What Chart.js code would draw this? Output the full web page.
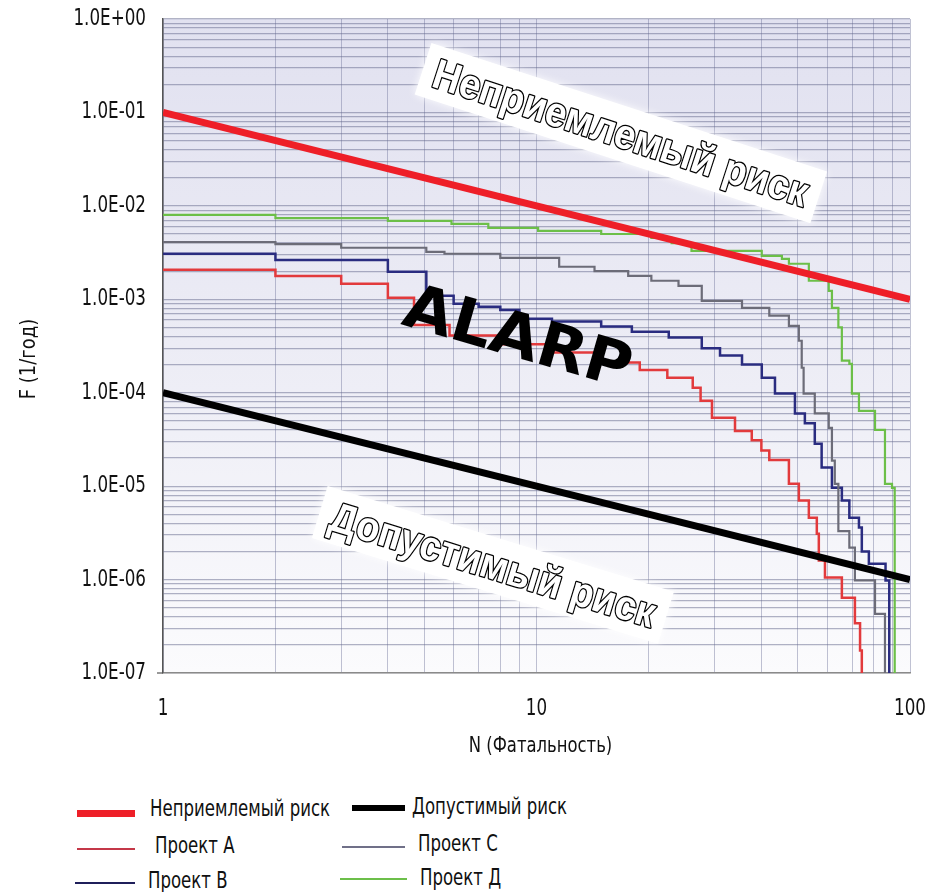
<!DOCTYPE html>
<html>
<head>
<meta charset="utf-8">
<script src="https://cdn.jsdelivr.net/npm/chart.js@4.4.1/dist/chart.umd.min.js"></script>
<style>
body { margin: 0; background: #fff; }
#wrap { position: relative; width: 928px; height: 892px; }
#chart { position: absolute; left: 0; top: 0; }
.leg-line { position: absolute; }
.leg-text { position: absolute; font: 23px "Liberation Sans Narrow", "DejaVu Sans Condensed", sans-serif; color: #111; white-space: nowrap; line-height: 1; transform-origin: 0 50%; transform: translateY(-50%) scaleX(0.8); }
</style>
</head>
<body>
<div id="wrap">
  <canvas id="chart" width="928" height="770"></canvas>
  <div id="legend"></div>
</div>
<script>
// Границы риска (F-N)
const riskN = [1, 100];
const unacceptableF = [1e-1, 1e-3];
const tolerableF = [1e-4, 1e-6];

// Проект A
const nA = [1, 2, 3, 4, 4.7, 5.85, 8, 10.9, 14.8, 18.9, 22.4, 26.2, 27.5, 29.5, 34, 37.7, 40, 42, 47.4, 50.4, 53.6, 56.3, 57, 59.2, 65.7, 71.2, 73.5, 74.3];
const fA = [2.07e-3, 1.78e-3, 1.47e-3, 1.04e-3, 5.3e-4, 4.1e-4, 3.3e-4, 2.7e-4, 2.1e-4, 1.75e-4, 1.45e-4, 1.13e-4, 8.2e-5, 5.4e-5, 3.9e-5, 3.1e-5, 2.4e-5, 1.9e-5, 1.06e-5, 7.0e-6, 4.6e-6, 3.1e-6, 1.6e-6, 1.05e-6, 6.4e-7, 3.4e-7, 1.74e-7, 1.0e-7];

// Проект B
const nB = [1, 2, 4, 5.07, 6, 7, 8, 9, 11, 14.9, 18, 22.6, 27.7, 31, 35.5, 40.1, 43.5, 49.2, 52.3, 55.6, 58, 61.8, 65.7, 68.8, 73, 74.3, 77.6, 86, 88, 88];
const fB = [3.07e-3, 2.64e-3, 1.97e-3, 1.09e-3, 8.95e-4, 8.3e-4, 7.7e-4, 6.2e-4, 5.8e-4, 5.1e-4, 4.5e-4, 3.9e-4, 3.0e-4, 2.5e-4, 2.0e-4, 1.45e-4, 9.8e-5, 6.0e-5, 4.7e-5, 2.85e-5, 1.58e-5, 9.6e-6, 7.0e-6, 4.6e-6, 3.6e-6, 2.0e-6, 1.48e-6, 9.8e-7, 7.6e-7, 1.0e-7];

// Проект C
const nC = [1, 2, 3, 5.07, 5.67, 8, 11.5, 14.3, 17.6, 20.3, 24, 27.7, 35.5, 42, 47.4, 50.4, 51.3, 51.9, 55.6, 60.6, 61.8, 62.9, 64.3, 68.8, 71.2, 80.6, 85.7];
const fC = [4.1e-3, 3.9e-3, 3.56e-3, 3.22e-3, 3.07e-3, 2.78e-3, 2.23e-3, 2.0e-3, 1.78e-3, 1.58e-3, 1.39e-3, 9.6e-4, 8.1e-4, 6.7e-4, 5.2e-4, 3.6e-4, 1.85e-4, 9.8e-5, 6.0e-5, 4.2e-5, 1.88e-5, 1.06e-5, 3.3e-6, 2.2e-6, 9.8e-7, 4.3e-7, 1.0e-7];

// Проект Д
const nD = [1, 2, 4, 5.92, 7.43, 10.1, 14.9, 20.3, 23, 26, 40.1, 45.4, 47.4, 53.6, 60.6, 61.8, 64.3, 65.7, 68.8, 69.9, 73, 80.6, 85.7, 89.5, 91];
const fD = [8.0e-3, 7.4e-3, 6.9e-3, 6.4e-3, 5.8e-3, 5.4e-3, 5.0e-3, 4.55e-3, 4.0e-3, 3.3e-3, 2.92e-3, 2.71e-3, 2.4e-3, 1.58e-3, 1.23e-3, 8.1e-4, 5.0e-4, 2.2e-4, 2.04e-4, 9.8e-5, 6.4e-5, 4.0e-5, 1.06e-5, 9.6e-6, 1.0e-7];

// Подписи осей
const xGridValues = [1, 2, 3, 4, 5, 6, 7, 8, 9, 10, 20, 30, 40, 50, 60, 70, 80, 90, 100];
const xLabelValues = [1, 10, 100];
const xTickLabels = ['1', '10', '100'];
const yLabelValues = [1, 1e-1, 1e-2, 1e-3, 1e-4, 1e-5, 1e-6, 1e-7];
const yTickLabels = ['1.0E+00', '1.0E-01', '1.0E-02', '1.0E-03', '1.0E-04', '1.0E-05', '1.0E-06', '1.0E-07'];
const xTitle = 'N (Фатальность)';
const yTitle = 'F (1/год)';

// Надписи на поле графика
const annotTexts = ['Неприемлемый риск', 'ALARP', 'Допустимый риск'];
const annotN = [5.19, 4.31, 2.75];
const annotF = [0.192, 5.44e-4, 3.48e-6];

const FONT = '"Liberation Sans Narrow", "DejaVu Sans Condensed", sans-serif';
Chart.defaults.font.family = FONT;
Chart.defaults.color = '#111';

function pts(xs, ys) {
    return xs.map((v, i) => ({ x: v, y: ys[i] }));
}

const yGridValues = [];
for (let e = -7; e <= 0; e++) {
    for (let s = 1; s <= 9; s++) {
        if (e === 0 && s > 1) break;
        yGridValues.push(s * Math.pow(10, e));
    }
}

const datasets = [
    { label: 'Неприемлемый риск', data: pts(riskN, unacceptableF), borderColor: '#ee1f28', borderWidth: 7, legendH: 7 },
    { label: 'Допустимый риск', data: pts(riskN, tolerableF), borderColor: '#000000', borderWidth: 7, legendH: 6 },
    { label: 'Проект A', data: pts(nA, fA), borderColor: '#e23a3c', borderWidth: 2.5, stepped: true, legendColor: '#c43848' },
    { label: 'Проект C', data: pts(nC, fC), borderColor: '#6c6c78', borderWidth: 2.2, stepped: true, legendColor: '#707088' },
    { label: 'Проект B', data: pts(nB, fB), borderColor: '#2a2c80', borderWidth: 2.5, stepped: true, legendColor: '#1f1f5a' },
    { label: 'Проект Д', data: pts(nD, fD), borderColor: '#6cbf48', borderWidth: 2.2, stepped: true, legendColor: '#6cbf4a' }
];
datasets.forEach(d => { d.pointRadius = 0; d.fill = false; d.tension = 0; });

// узкий текст (шрифт сжат по горизонтали)
function narrowText(ctx, txt, x, y, align, size, sx, rot) {
    ctx.save();
    ctx.translate(x, y);
    if (rot) ctx.rotate(rot);
    ctx.scale(sx, 1);
    ctx.font = size + 'px ' + FONT;
    ctx.fillStyle = '#111';
    ctx.textAlign = align;
    ctx.textBaseline = 'middle';
    ctx.fillText(txt, 0, 0);
    ctx.restore();
}

// фон, подписи осей и надписи
const riskPlugin = {
    id: 'riskPlugin',
    beforeDraw(chart) {
        const { ctx, chartArea: a } = chart;
        const g = ctx.createLinearGradient(0, a.top, 0, a.bottom);
        g.addColorStop(0, '#e1e1f0');
        g.addColorStop(0.5, '#ececf5');
        g.addColorStop(1, '#fbfbfd');
        ctx.save();
        ctx.fillStyle = g;
        ctx.fillRect(a.left, a.top, a.right - a.left, a.bottom - a.top);
        ctx.restore();
    },
    afterDatasetsDraw(chart) {
        const { ctx, scales: { x, y } } = chart;
        const styles = [
            { font: 'bold 42px "Liberation Sans", Arial, sans-serif', size: 42, angle: 18, len: 392, banner: true, outline: true },
            { font: 'bold 62px "DejaVu Sans", sans-serif', size: 62, angle: 16, len: 234, banner: false, outline: false },
            { font: 'bold 42px "Liberation Sans", Arial, sans-serif', size: 42, angle: 17, len: 338, banner: true, outline: true }
        ];
        annotTexts.forEach((txt, i) => {
            const st = styles[i];
            const px = x.getPixelForValue(annotN[i]);
            const py = y.getPixelForValue(annotF[i]);
            ctx.save();
            ctx.translate(px, py);
            ctx.rotate(st.angle * Math.PI / 180);
            ctx.font = st.font;
            ctx.textBaseline = 'alphabetic';
            const w = ctx.measureText(txt).width;
            const cap = st.size * 0.72;
            if (st.banner) {
                ctx.fillStyle = '#ffffff';
                ctx.shadowColor = 'rgba(255,255,255,0.95)';
                ctx.shadowBlur = 8;
                ctx.fillRect(-12, -cap - 11, st.len + 24, cap + 24);
                ctx.shadowBlur = 0;
            }
            ctx.scale(st.len / w, 1);
            if (st.outline) {
                ctx.lineJoin = 'round';
                ctx.lineWidth = 2.6;
                ctx.strokeStyle = '#000';
                ctx.strokeText(txt, 0, 0);
                ctx.fillStyle = '#fff';
                ctx.fillText(txt, 0, 0);
            } else {
                ctx.fillStyle = '#000';
                ctx.fillText(txt, 0, 0);
            }
            ctx.restore();
        });
    },
    afterDraw(chart) {
        const { ctx, chartArea: a, scales: { x, y } } = chart;
        yLabelValues.forEach((v, i) => {
            narrowText(ctx, yTickLabels[i], a.left - 17, y.getPixelForValue(v), 'right', 23, 0.81);
        });
        xLabelValues.forEach((v, i) => {
            narrowText(ctx, xTickLabels[i], x.getPixelForValue(v), a.bottom + 36, 'center', 23, 0.81);
        });
        narrowText(ctx, xTitle, (a.left + a.right) / 2 + 4, a.bottom + 74, 'center', 21, 0.87);
        narrowText(ctx, yTitle, 30, (a.top + a.bottom) / 2 + 13, 'center', 21, 0.95, -Math.PI / 2);
        // засечка у нижней подписи оси F
        ctx.save();
        ctx.strokeStyle = '#555';
        ctx.lineWidth = 1.2;
        ctx.beginPath();
        ctx.moveTo(a.left - 6, a.bottom);
        ctx.lineTo(a.left, a.bottom);
        ctx.stroke();
        ctx.restore();
    }
};

new Chart(document.getElementById('chart'), {
    type: 'line',
    data: { datasets },
    options: {
        responsive: false,
        animation: false,
        layout: { padding: { top: 19, right: 18, bottom: 0, left: 0 } },
        plugins: { legend: { display: false }, tooltip: { enabled: false } },
        scales: {
            x: {
                type: 'logarithmic',
                min: 1,
                max: 100,
                afterBuildTicks: s => { s.ticks = xGridValues.map(v => ({ value: v })); },
                afterFit: s => { s.height = 97; },
                ticks: { display: false, autoSkip: false },
                grid: { color: 'rgba(115,120,158,0.45)', lineWidth: 1, drawTicks: false },
                border: { color: '#8a8a8a', width: 1.5 }
            },
            y: {
                type: 'logarithmic',
                min: 1e-7,
                max: 1,
                afterBuildTicks: s => { s.ticks = yGridValues.map(v => ({ value: v })); },
                afterFit: s => { s.width = 163; },
                ticks: { display: false, autoSkip: false },
                grid: { color: 'rgba(100,104,140,0.5)', lineWidth: 1.2, drawTicks: false },
                border: { color: '#555', width: 1.5 }
            }
        }
    },
    plugins: [riskPlugin]
});

// легенда
const legendPos = [
    { lx: 77, lw: 58, ly: 813, tx: 150, ty: 808 },
    { lx: 352, lw: 53, ly: 808, tx: 412, ty: 806 },
    { lx: 77, lw: 58, ly: 849, tx: 155, ty: 845 },
    { lx: 342, lw: 63, ly: 847, tx: 418, ty: 843 },
    { lx: 75, lw: 60, ly: 883, tx: 148, ty: 880 },
    { lx: 340, lw: 67, ly: 879, tx: 420, ty: 877 }
];
const legend = document.getElementById('legend');
datasets.forEach((d, i) => {
    const p = legendPos[i];
    const h = d.legendH || 2.5;
    const line = document.createElement('div');
    line.className = 'leg-line';
    line.style.cssText = `left:${p.lx}px;top:${p.ly - h / 2}px;width:${p.lw}px;height:${h}px;background:${d.legendColor || d.borderColor};`;
    const text = document.createElement('div');
    text.className = 'leg-text';
    text.style.left = p.tx + 'px';
    text.style.top = p.ty + 'px';
    text.textContent = d.label;
    legend.appendChild(line);
    legend.appendChild(text);
});
</script>
</body>
</html>
